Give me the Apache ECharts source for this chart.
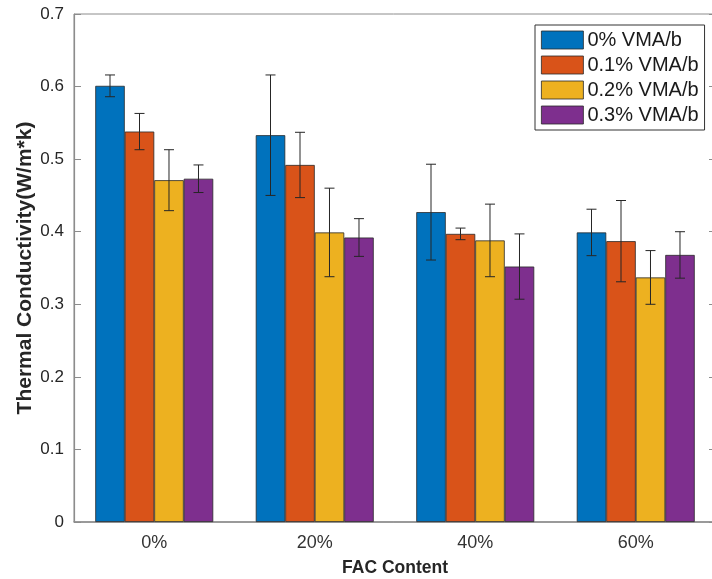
<!DOCTYPE html>
<html>
<head>
<meta charset="utf-8">
<script src="https://cdn.jsdelivr.net/npm/echarts@6/dist/echarts.min.js"></script>
<style>
  html, body { margin: 0; padding: 0; background: #fff; }
  #chart { width: 712px; height: 579px; }
</style>
</head>
<body>
<div id="chart"></div>
<script>
// FAC content groups on the x axis
const categories = ['0%', '20%', '40%', '60%'];
const seriesNames = ['0% VMA/b', '0.1% VMA/b', '0.2% VMA/b', '0.3% VMA/b'];

// Mean thermal conductivity (W/m*k) per VMA/b dosage
const vma00 = [0.601, 0.533, 0.427, 0.399];
const vma01 = [0.538, 0.492, 0.397, 0.387];
const vma02 = [0.471, 0.399, 0.388, 0.337];
const vma03 = [0.473, 0.392, 0.352, 0.368];

// Half-length of each error bar
const err00 = [0.015, 0.083, 0.066, 0.032];
const err01 = [0.025, 0.045, 0.008, 0.056];
const err02 = [0.042, 0.061, 0.050, 0.037];
const err03 = [0.019, 0.026, 0.045, 0.032];

const yTicks = [0, 0.1, 0.2, 0.3, 0.4, 0.5, 0.6, 0.7];

const means = [vma00, vma01, vma02, vma03];
const errs = [err00, err01, err02, err03];
const colors = ['#0072BD', '#D95319', '#EDB120', '#7E2F8E'];
const FONT = '"Liberation Sans", Arial, Helvetica, sans-serif';
const CAT_GAP = 0.265;   // share of each category left empty around a group

const chart = echarts.init(document.getElementById('chart'), null, { renderer: 'canvas' });

const barSeries = seriesNames.map((name, i) => ({
  name: name,
  type: 'bar',
  data: means[i],
  barGap: '0%',
  barCategoryGap: (CAT_GAP * 100) + '%',
  itemStyle: { color: colors[i], borderColor: '#2a2a2a', borderWidth: 0.8 },
  emphasis: { disabled: true },
  z: 2
}));

// rows: [category index, series index, mean, half error]
const errRows = [];
means.forEach((arr, si) => arr.forEach((m, ci) => errRows.push([ci, si, m, errs[si][ci]])));

const errorSeries = {
  type: 'custom',
  name: 'error',
  data: errRows,
  encode: { x: 0, y: 2 },
  z: 5,
  silent: true,
  renderItem: function (params, api) {
    const ci = api.value(0), si = api.value(1), m = api.value(2), e = api.value(3);
    const band = api.size([1, 0])[0];
    const groupW = band * (1 - CAT_GAP);
    const barW = groupW / seriesNames.length;
    const c = api.coord([ci, m]);
    const x = c[0] - groupW / 2 + barW * (si + 0.5);
    const yTop = api.coord([ci, m + e])[1];
    const yBot = api.coord([ci, m - e])[1];
    const cap = 5;
    const st = { stroke: '#262626', lineWidth: 1 };
    return {
      type: 'group',
      children: [
        { type: 'line', shape: { x1: x, y1: yTop, x2: x, y2: yBot }, style: st },
        { type: 'line', shape: { x1: x - cap, y1: yTop, x2: x + cap, y2: yTop }, style: st },
        { type: 'line', shape: { x1: x - cap, y1: yBot, x2: x + cap, y2: yBot }, style: st }
      ]
    };
  }
};

const option = {
  backgroundColor: '#ffffff',
  animation: false,
  textStyle: { fontFamily: FONT },
  grid: {
    left: 74, top: 14, width: 642, height: 508,
    containLabel: false,
    outerBoundsMode: 'none',
    show: true, borderColor: '#8c8c8c', borderWidth: 1, backgroundColor: 'transparent'
  },
  legend: {
    data: seriesNames,
    orient: 'vertical',
    left: 535, top: 25,
    itemWidth: 42, itemHeight: 18, itemGap: 5,
    padding: [5, 6, 5, 6],
    borderColor: '#333333', borderWidth: 1,
    backgroundColor: '#ffffff',
    icon: 'rect',
    itemStyle: { borderColor: '#2a2a2a', borderWidth: 0.8 },
    textStyle: { fontFamily: FONT, fontSize: 20, color: '#1a1a1a', padding: [0, 0, 0, -1] },
    selectedMode: false
  },
  xAxis: {
    type: 'category',
    data: categories,
    name: 'FAC Content',
    nameLocation: 'middle',
    nameGap: 37,
    nameMoveOverlap: false,
    nameTextStyle: { fontFamily: FONT, fontSize: 17.5, fontWeight: 'bold', color: '#262626', verticalAlign: 'top' },
    axisLine: { lineStyle: { color: '#8c8c8c', width: 1.5 } },
    axisTick: { show: false },
    axisLabel: { fontFamily: FONT, fontSize: 18, color: '#333333', margin: 12 },
    splitLine: { show: false }
  },
  yAxis: [{
    type: 'value',
    min: 0, max: 0.7, interval: 0.1,
    name: 'Thermal Conductivity(W/m*k)',
    nameLocation: 'middle',
    nameGap: 38,
    nameMoveOverlap: false,
    nameTextStyle: { fontFamily: FONT, fontSize: 21, fontWeight: 'bold', color: '#262626' },
    axisLine: { show: true, lineStyle: { color: '#8c8c8c', width: 1.2 } },
    axisTick: { show: true, inside: true, length: 7, lineStyle: { color: '#8c8c8c' } },
    axisLabel: {
      fontFamily: FONT, fontSize: 17, color: '#262626', margin: 10,
      formatter: v => {
        const t = yTicks.find(k => Math.abs(k - v) < 1e-9);
        return t === undefined ? '' : String(t);
      }
    },
    splitLine: { show: false }
  }, {
    type: 'value',
    position: 'right',
    min: 0, max: 0.7, interval: 0.1,
    axisLine: { show: true, lineStyle: { color: '#8c8c8c' } },
    axisTick: { show: true, inside: true, length: 7, lineStyle: { color: '#8c8c8c' } },
    axisLabel: { show: false },
    splitLine: { show: false }
  }],
  series: barSeries.concat([errorSeries])
};

chart.setOption(option);
</script>
</body>
</html>
